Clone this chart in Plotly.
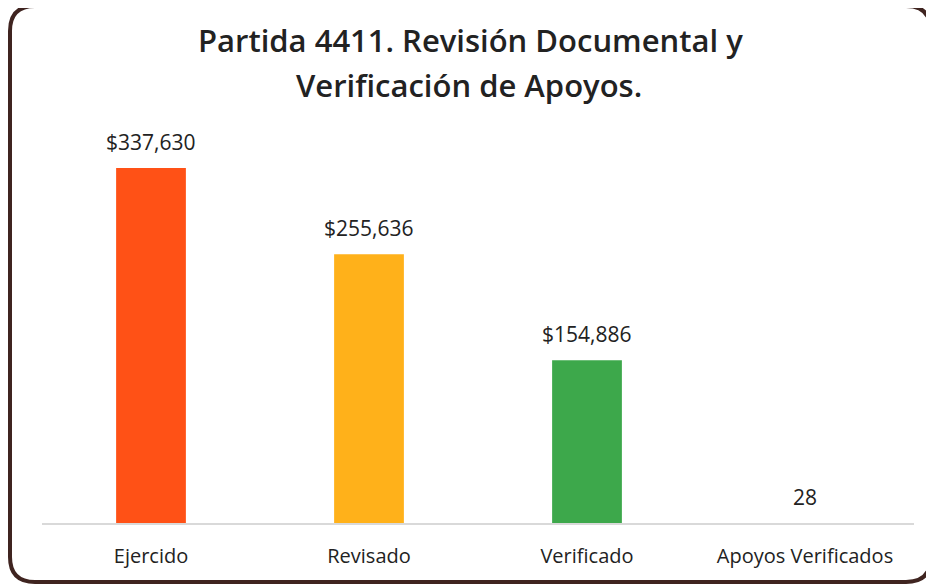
import plotly.graph_objects as go

categories = ["Ejercido", "Revisado", "Verificado", "Apoyos Verificados"]
values = [337630, 255636, 154886, 28]
value_labels = ["$337,630", "$255,636", "$154,886", "28"]
bar_colors = ["#FF5116", "#FFB11A", "#3DA84B", "rgba(68,114,196,0)"]
title_lines = ["Partida 4411. Revisión Documental y", "Verificación de Apoyos."]

# page has an 8px body margin; figure sized to fill the visible window
OFF = 8
W, H = 934 - OFF, 586 - OFF
L, R, T, B = 34, 20, 122, 63
PW, PH = W - L - R, H - T - B
YMAX = 373770

def px(x):  # window pixel -> paper
    return (x - OFF - L) / PW

def py(y):
    return (H - B - (y - OFF)) / PH

FONT = "Open Sans"
TXT = "#222222"

fig = go.Figure()
fig.add_trace(go.Bar(
    x=categories, y=values, marker=dict(color=bar_colors, line=dict(width=0)),
    width=0.32, hoverinfo="skip", showlegend=False,
))

annotations = []
for c, v, lab in zip(categories, values, value_labels):
    annotations.append(dict(
        x=c, y=v, xref="x", yref="y", text=lab, showarrow=False,
        xanchor="center", yanchor="middle", yshift=26,
        font=dict(family=FONT, size=21, color=TXT),
    ))
annotations.append(dict(x=px(470), y=py(40), xref="paper", yref="paper", text=title_lines[0],
                        showarrow=False, xanchor="center", yanchor="middle",
                        font=dict(family=FONT, size=31, color=TXT, weight=600)))
annotations.append(dict(x=px(469), y=py(85), xref="paper", yref="paper", text=title_lines[1],
                        showarrow=False, xanchor="center", yanchor="middle",
                        font=dict(family=FONT, size=31, color=TXT, weight=600)))

r = 25
x0, x1, y0, y1 = px(10), px(931), py(6), py(582)
rx, ry = r / PW, r / PH
path = (f"M {x0+rx},{y0} L {x1-rx},{y0} Q {x1},{y0} {x1},{y0-ry} "
        f"L {x1},{y1+ry} Q {x1},{y1} {x1-rx},{y1} L {x0+rx},{y1} "
        f"Q {x0},{y1} {x0},{y1+ry} L {x0},{y0-ry} Q {x0},{y0} {x0+rx},{y0} Z")

fig.update_layout(
    width=W, height=H, margin=dict(l=L, r=R, t=T, b=B),
    paper_bgcolor="white", plot_bgcolor="white",
    xaxis=dict(type="category", showgrid=False, zeroline=False, showline=True,
               linecolor="#D9D9D9", linewidth=1.5, ticks="", ticklabelstandoff=14,
               tickfont=dict(family=FONT, size=20, color=TXT)),
    yaxis=dict(range=[0, YMAX], visible=False, showgrid=False, zeroline=False),
    annotations=annotations,
    shapes=[dict(type="path", path=path, xref="paper", yref="paper",
                 line=dict(color="#3F2420", width=4), layer="above")],
)

fig.write_html("out.html")
